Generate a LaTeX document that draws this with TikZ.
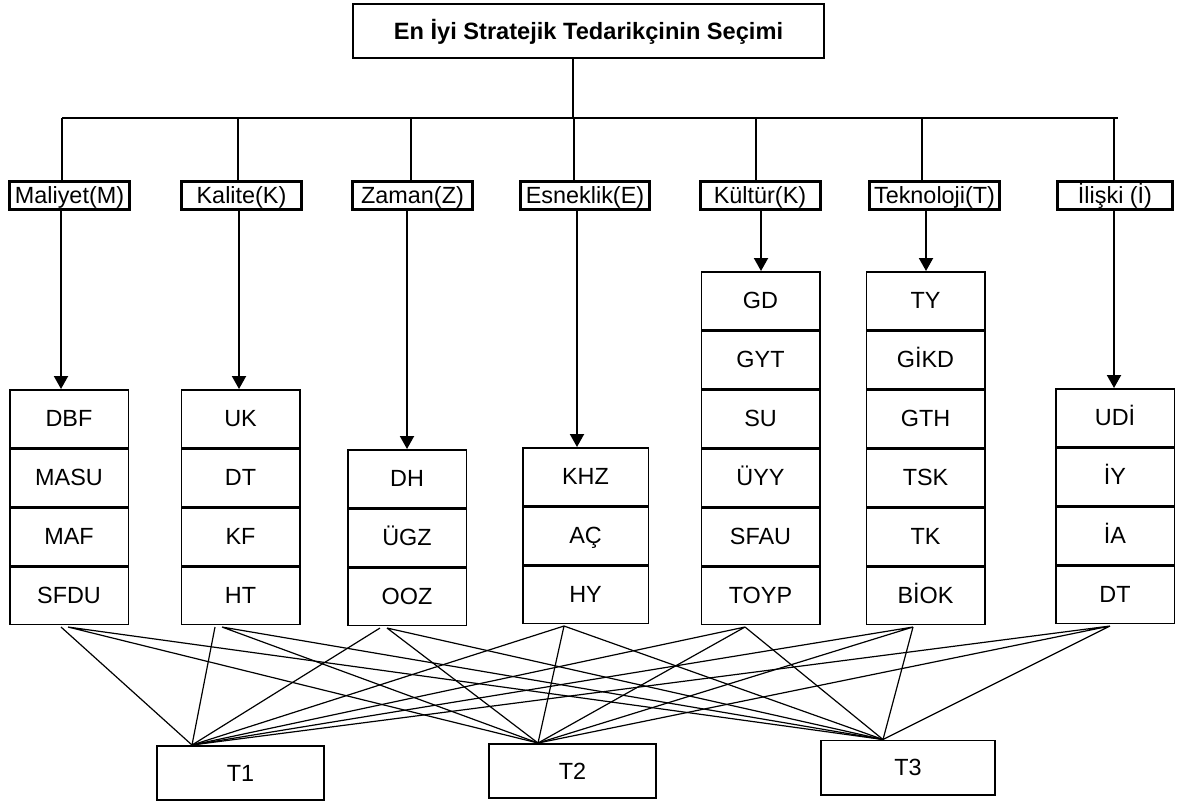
\documentclass[tikz,border=0pt]{standalone}
\usepackage{fontspec}
\setmainfont{Liberation Sans}
\usetikzlibrary{arrows.meta, positioning}
\tikzstyle{every node}=[font=\fontsize{11.7}{14}\selectfont,text height=8.4pt,text depth=0pt]
\tikzstyle{goal}=[draw,rectangle,line width=.8pt,minimum width=235.7pt,minimum height=27.2pt,
  font=\fontsize{11.8}{14}\selectfont\bfseries]
\tikzstyle{crit}=[draw,rectangle,line width=1.5pt,minimum width=60pt,minimum height=14pt,
  inner xsep=2.5pt,inner ysep=0pt]
\tikzstyle{cell}=[draw,rectangle,line width=.75pt,minimum width=59.25pt,minimum height=28.75pt]
\tikzstyle{alt}=[draw,rectangle,line width=.8pt,minimum width=83.7pt,minimum height=27.2pt]
\tikzstyle{link}=[line width=.6pt]
\tikzstyle{bus}=[line width=.65pt]
\tikzstyle{down}=[->,line width=1pt]

\begin{document}
\begin{tikzpicture}[x=.5pt,y=-.5pt,>={Triangle[width=7pt,length=6.5pt]}]
    \useasboundingbox (0,0) rectangle (1181,805);
    % goal and criteria
    \node[goal] (goal) at (588.5,31) {En İyi Stratejik Tedarikçinin Seçimi};
    \node[crit] (mal) at (69.5,195.5) {Maliyet(M)};
    \node[crit] (kal) at (241.5,195.5) {Kalite(K)};
    \node[crit] (zam) at (412.5,195.5) {Zaman(Z)};
    \node[crit] (esn) at (585,195.5) {Esneklik(E)};
    \node[crit] (kul) at (760,195.5) {Kültür(K)};
    \node[crit] (tek) at (934.5,195.5) {Teknoloji(T)};
    \node[crit, minimum width=57.5pt] (ili) at (1115,195.5) {İlişki (İ)};

    % sub-criteria
    \node[cell] (dbf) at (69,418.5) {DBF};
    \node[cell, below=0pt of dbf] (masu) {MASU};
    \node[cell, below=0pt of masu] (maf) {MAF};
    \node[cell, below=0pt of maf] (sfdu) {SFDU};

    \node[cell] (uk) at (240.5,418.5) {UK};
    \node[cell, below=0pt of uk] (kdt) {DT};
    \node[cell, below=0pt of kdt] (kf) {KF};
    \node[cell, below=0pt of kf] (ht) {HT};

    \node[cell] (dh) at (407,478.5) {DH};
    \node[cell, below=0pt of dh] (ugz) {ÜGZ};
    \node[cell, below=0pt of ugz] (ooz) {OOZ};

    \node[cell, minimum width=62.75pt] (khz) at (585.5,476.5) {KHZ};
    \node[cell, minimum width=62.75pt, below=0pt of khz] (ac) {AÇ};
    \node[cell, minimum width=62.75pt, below=0pt of ac] (hy) {HY};

    \node[cell] (gd) at (760.5,300.5) {GD};
    \node[cell, below=0pt of gd] (gyt) {GYT};
    \node[cell, below=0pt of gyt] (su) {SU};
    \node[cell, below=0pt of su] (uyy) {ÜYY};
    \node[cell, below=0pt of uyy] (sfau) {SFAU};
    \node[cell, below=0pt of sfau] (toyp) {TOYP};

    \node[cell] (ty) at (925.5,300.5) {TY};
    \node[cell, below=0pt of ty] (gikd) {GİKD};
    \node[cell, below=0pt of gikd] (gth) {GTH};
    \node[cell, below=0pt of gth] (tsk) {TSK};
    \node[cell, below=0pt of tsk] (tk) {TK};
    \node[cell, below=0pt of tk] (biok) {BİOK};

    \node[cell] (udi) at (1115,417.5) {UDİ};
    \node[cell, below=0pt of udi] (iy) {İY};
    \node[cell, below=0pt of iy] (ia) {İA};
    \node[cell, below=0pt of ia] (idt) {DT};

    % alternatives
    \node[alt] (t1) at (240.5,773) {T1};
    \node[alt] (t2) at (572.5,771) {T2};
    \node[alt, minimum width=87.2pt] (t3) at (908,767.5) {T3};

    % tree
    \coordinate (busl) at (62,118);
    \coordinate (busr) at (1118,118);
    \draw[bus] (busl) -- (busr);
    \draw[bus] ([xshift=-7.75pt]goal.south) -- ([xshift=-7.75pt]goal.south |- busl);
    \draw[bus] ([xshift=-3.75pt]mal.north) -- ([xshift=-3.75pt]mal.north |- busl);
    \draw[bus] ([xshift=-1.75pt]kal.north) -- ([xshift=-1.75pt]kal.north |- busl);
    \draw[bus] ([xshift=-.75pt]zam.north) -- ([xshift=-.75pt]zam.north |- busl);
    \draw[bus] ([xshift=-5.5pt]esn.north) -- ([xshift=-5.5pt]esn.north |- busl);
    \draw[bus] ([xshift=-2pt]kul.north) -- ([xshift=-2pt]kul.north |- busl);
    \draw[bus] ([xshift=-6.25pt]tek.north) -- ([xshift=-6.25pt]tek.north |- busl);
    \draw[bus] ([xshift=-.5pt]ili.north) -- ([xshift=-.5pt]ili.north |- busl);

    \draw[down] ([xshift=-4.25pt]mal.south) -- ([xshift=-4.25pt]mal.south |- dbf.north);
    \draw[down] ([xshift=-1.25pt]kal.south) -- ([xshift=-1.25pt]kal.south |- uk.north);
    \draw[down] ([xshift=-2.75pt]zam.south) -- ([xshift=-2.75pt]zam.south |- dh.north);
    \draw[down] ([xshift=-4pt]esn.south) -- ([xshift=-4pt]esn.south |- khz.north);
    \draw[down] ([xshift=.5pt]kul.south) -- ([xshift=.5pt]kul.south |- gd.north);
    \draw[down] ([xshift=-4.25pt]tek.south) -- ([xshift=-4.25pt]tek.south |- ty.north);
    \draw[down] ([xshift=-.5pt]ili.south) -- ([xshift=-.5pt]ili.south |- udi.north);

    % links to alternatives
    \coordinate (t1in) at ([xshift=-24.25pt]t1.north);
    \coordinate (t2in) at ([xshift=-17.25pt]t2.north);
    \coordinate (t3in) at ([xshift=-12.5pt]t3.north);
    \coordinate (m1) at ([xshift=-4pt,yshift=-1pt]sfdu.south);
    \coordinate (m2) at ([xshift=-.5pt,yshift=-1pt]sfdu.south);
    \coordinate (k1) at ([xshift=-12.75pt,yshift=-1pt]ht.south);
    \coordinate (k2) at ([xshift=-9.25pt,yshift=-1pt]ht.south);
    \coordinate (z1) at ([xshift=-13.5pt,yshift=-1pt]ooz.south);
    \coordinate (z2) at ([xshift=-10pt,yshift=-1pt]ooz.south);
    \coordinate (e1) at ([xshift=-10.75pt,yshift=-1pt]hy.south);
    \coordinate (c1) at ([xshift=-7.75pt,yshift=-1pt]toyp.south);
    \coordinate (te1) at ([xshift=-6.25pt,yshift=-1pt]biok.south);
    \coordinate (i1) at ([xshift=-2.5pt,yshift=-1pt]idt.south);
    \draw[link] (m1) -- (t1in) (m2) -- (t2in) (m2) -- (t3in);
    \draw[link] (k1) -- (t1in) (k2) -- (t2in) (k2) -- (t3in);
    \draw[link] (z1) -- (t1in) (z2) -- (t2in) (z2) -- (t3in);
    \draw[link] (e1) -- (t1in) (e1) -- (t2in) (e1) -- (t3in);
    \draw[link] (c1) -- (t1in) (c1) -- (t2in) (c1) -- (t3in);
    \draw[link] (te1) -- (t1in) (te1) -- (t2in) (te1) -- (t3in);
    \draw[link] (i1) -- (t1in) (i1) -- (t2in) (i1) -- (t3in);
\end{tikzpicture}
\end{document}
